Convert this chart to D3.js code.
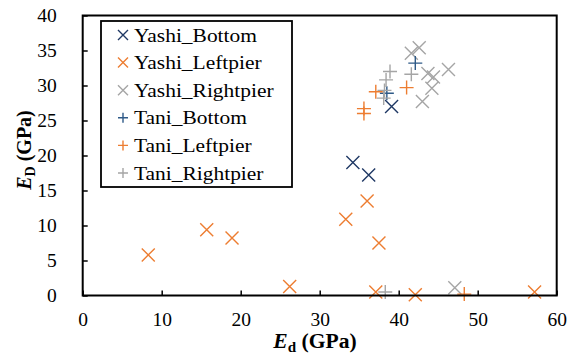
<!DOCTYPE html>
<html>
<head>
<meta charset="utf-8">
<script src="https://cdn.jsdelivr.net/npm/d3@7"></script>
<style>
  html, body { margin: 0; padding: 0; background: #fff; }
  svg { display: block; }
  svg text { font-family: 'Liberation Serif', 'Times New Roman', Times, 'DejaVu Serif', serif; }
</style>
</head>
<body>
<div id="chart"></div>
<script>
// E_d (GPa) vs E_D (GPa)
const yashiBottom = [[34.2, 19.0], [36.2, 17.2], [39.1, 27.0]];
const yashiLeftpier = [
  [8.3, 5.8], [15.7, 9.4], [18.9, 8.2], [26.2, 1.3], [33.3, 10.9], [36.0, 13.5],
  [37.5, 7.5], [37.1, 0.5], [42.1, 0.1], [57.2, 0.5]
];
const yashiRightpier = [
  [41.6, 34.6], [42.6, 35.4], [46.3, 32.3], [43.7, 31.7], [44.4, 31.2],
  [44.2, 29.6], [43.0, 27.7], [47.1, 1.1]
];
const taniBottom = [[42.1, 33.2], [38.5, 28.9]];
const taniLeftpier = [[35.6, 26.7], [35.6, 26.0], [37.1, 29.1], [41.0, 29.7], [48.3, 0.2]];
const taniRightpier = [[38.9, 32.0], [38.4, 30.8], [38.2, 29.3], [38.1, 28.2], [41.6, 31.6], [38.3, 0.5]];

const xTicks = [0, 10, 20, 30, 40, 50, 60];
const yTicks = [0, 5, 10, 15, 20, 25, 30, 35, 40];

const seriesList = [
  { name: 'Yashi_Bottom', data: yashiBottom, shape: 'x', color: '#1f3864' },
  { name: 'Yashi_Leftpier', data: yashiLeftpier, shape: 'x', color: '#ed7d31' },
  { name: 'Yashi_Rightpier', data: yashiRightpier, shape: 'x', color: '#a5a5a5' },
  { name: 'Tani_Bottom', data: taniBottom, shape: 'plus', color: '#2e5a88' },
  { name: 'Tani_Leftpier', data: taniLeftpier, shape: 'plus', color: '#ed7d31' },
  { name: 'Tani_Rightpier', data: taniRightpier, shape: 'plus', color: '#a5a5a5' }
];

const width = 570, height = 358;

const x = d3.scaleLinear().domain([0, 60]).range([82.7, 556.7]);
const y = d3.scaleLinear().domain([0, 40]).range([295.5, 15.5]);

const svg = d3.select('#chart').append('svg')
  .attr('width', width).attr('height', height);

function markerPath(shape, r) {
  if (shape === 'x') return `M${-r},${-r}L${r},${r}M${-r},${r}L${r},${-r}`;
  return `M${-r},0L${r},0M0,${-r}L0,${r}`;
}

/* Marks */
seriesList.forEach((s) => {
  svg.append('g')
    .selectAll('path')
    .data(s.data)
    .join('path')
    .attr('transform', (d) => `translate(${x(d[0])},${y(d[1])})`)
    .attr('d', markerPath(s.shape, s.shape === 'x' ? 6.5 : 7))
    .attr('fill', 'none')
    .attr('stroke', s.color)
    .attr('stroke-width', 1.4);
});

/* Frame */
svg.append('rect')
  .attr('x', x(0)).attr('y', y(40))
  .attr('width', x(60) - x(0)).attr('height', y(0) - y(40))
  .attr('fill', 'none').attr('stroke', '#000').attr('stroke-width', 2);

/* Axes */
const yAxis = svg.append('g')
  .attr('transform', `translate(${x(0)},0)`)
  .call(d3.axisLeft(y).tickValues(yTicks).tickSizeInner(-5).tickSizeOuter(0).tickPadding(26));
const xAxis = svg.append('g')
  .attr('transform', `translate(0,${y(0)})`)
  .call(d3.axisBottom(x).tickValues(xTicks).tickSizeInner(-5).tickSizeOuter(0).tickPadding(17));

[xAxis, yAxis].forEach((g) => {
  g.attr('font-family', null).attr('font-size', null);
  g.select('.domain').remove();
  g.selectAll('line').attr('stroke', '#000').attr('stroke-width', 1.5);
  g.selectAll('text')
    .attr('fill', '#000')
    .style('font-size', '19.5px');
});

/* Axis titles */
const xTitle = svg.append('text')
  .attr('transform', 'translate(315,348) scale(1.08,1)')
  .attr('text-anchor', 'middle')
  .attr('font-size', 20).attr('font-weight', 700);
xTitle.append('tspan').attr('font-style', 'italic').text('E');
xTitle.append('tspan').attr('font-size', 14).attr('dy', 4).text('d');
xTitle.append('tspan').attr('dy', -4).text(' (GPa)');

const yTitle = svg.append('text')
  .attr('transform', 'translate(31,150) rotate(-90)')
  .attr('text-anchor', 'middle')
  .attr('font-size', 20).attr('font-weight', 700);
yTitle.append('tspan').attr('font-style', 'italic').text('E');
yTitle.append('tspan').attr('font-size', 14).attr('dy', 4).text('D');
yTitle.append('tspan').attr('dy', -4).text('  (GPa)');

/* Legend */
const legend = svg.append('g').attr('transform', 'translate(101,21)');
legend.append('rect')
  .attr('width', 191).attr('height', 166)
  .attr('fill', '#fff').attr('stroke', '#000').attr('stroke-width', 1.8);

legend.selectAll('g.item')
  .data(seriesList)
  .join('g')
  .attr('class', 'item')
  .attr('transform', (_, i) => `translate(0,${14 + i * 27.6})`)
  .each(function (d) {
    const g = d3.select(this);
    g.append('path')
      .attr('transform', 'translate(22,0)')
      .attr('d', markerPath(d.shape, 5))
      .attr('fill', 'none')
      .attr('stroke', d.color)
      .attr('stroke-width', 1.4);
    g.append('text')
      .attr('transform', 'translate(33,6.5) scale(1.1,1)')
      .attr('font-size', 19.5)
      .attr('fill', '#000')
      .text(d.name);
  });
</script>
</body>
</html>
